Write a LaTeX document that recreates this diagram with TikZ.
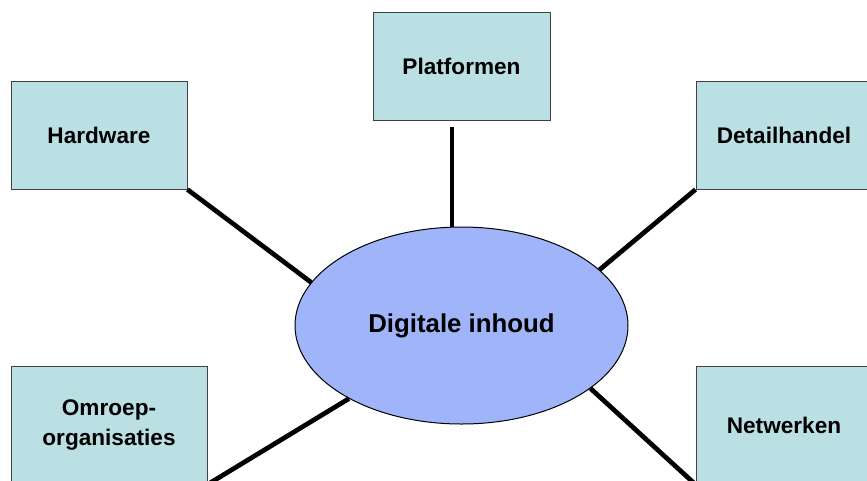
\documentclass[tikz,border=0pt]{standalone}
\usepackage{fontspec}
\setmainfont{Liberation Sans}
\usetikzlibrary{shapes,positioning}
\definecolor{boxfill}{RGB}{187,224,227}
\definecolor{ovalfill}{RGB}{160,180,249}

\begin{document}
\begin{tikzpicture}[x=1pt,y=-1pt]
    \tikzstyle{sector}=[rectangle,draw=black!75,line width=1pt,fill=boxfill,inner sep=0pt,align=center,font=\fontsize{22.6}{30}\selectfont\bfseries]
    \tikzstyle{core}=[ellipse,draw=black,line width=1pt,fill=ovalfill,inner sep=0pt,minimum width=333pt,minimum height=197pt,font=\fontsize{25.8}{30}\selectfont\bfseries]
    \tikzstyle{link}=[line width=4.7pt]

    \useasboundingbox (0,0) rectangle (867,480);
    \clip (0,0) rectangle (867,480);

    \node[core](dig) at (461.5,325.5){Digitale inhoud};
    \node[sector,minimum width=176pt,minimum height=108pt](hw) at (99,135){Hardware};
    \node[sector,minimum width=177pt,minimum height=108pt](pf) at (461.5,66){Platformen};
    \node[sector,minimum width=176pt,minimum height=108pt](dh) at (784,135){Detailhandel};
    \node[sector,minimum width=196pt,minimum height=118pt](om) at (109,425){Omroep-\\organisaties};
    \node[sector,minimum width=176pt,minimum height=118pt](nw) at (784,425){Netwerken};
    \coordinate (pfend) at (452,127);

    \draw[link] (hw.south east) -- (dig.164);
    \draw[link] (pfend) -- (pfend |- dig.north);
    \draw[link] (dh.south west) -- (dig.22);
    \draw[link] (om.south east) -- (dig.213);
    \draw[link] (nw.south west) -- (dig.334);
\end{tikzpicture}
\end{document}
